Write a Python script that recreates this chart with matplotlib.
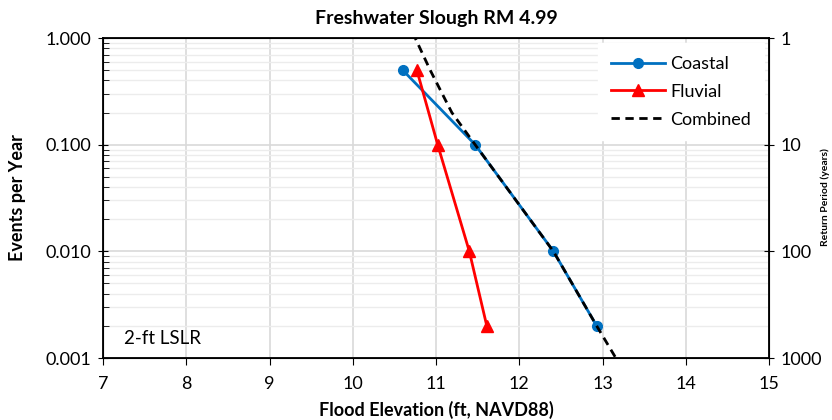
import matplotlib
matplotlib.use("Agg")
import matplotlib.pyplot as plt
from matplotlib.ticker import FixedLocator, FixedFormatter, LogLocator, NullFormatter

plt.rcParams['font.family'] = ['Lato', 'DejaVu Sans']

# data
coastal_x = [10.60, 11.47, 12.41, 12.93]
coastal_y = [0.5, 0.1, 0.01, 0.002]
fluvial_x = [10.77, 11.02, 11.40, 11.61]
fluvial_y = [0.5, 0.1, 0.01, 0.002]
combined_x = [10.70, 10.75, 10.93, 11.19, 11.47, 12.41, 12.93, 13.16]
combined_y = [1.1, 1.0, 0.5, 0.2, 0.1, 0.01, 0.002, 0.001]

left_ticks = [0.001, 0.01, 0.1, 1.0]
left_labels = ['0.001', '0.010', '0.100', '1.000']
right_ticks = [1, 10, 100, 1000]
right_labels = ['1', '10', '100', '1000']

fig = plt.figure(figsize=(8.32, 4.2), dpi=100)
ax = fig.add_axes([0.1238, 0.1476, 0.8005, 0.7619])

ax.plot(coastal_x, coastal_y, color='#0070C0', lw=2, marker='o', ms=7, label='Coastal', zorder=3)
ax.plot(fluvial_x, fluvial_y, color='#FF0000', lw=2, marker='^', ms=8, label='Fluvial', zorder=3)
ax.plot(combined_x, combined_y, color='black', lw=2, ls=(0, (3, 2)), label='Combined', zorder=4)

ax.set_yscale('log')
ax.set_ylim(0.001, 1.0)
ax.set_xlim(7, 15)
ax.set_xticks(range(7, 16))
ax.yaxis.set_major_locator(FixedLocator(left_ticks))
ax.yaxis.set_major_formatter(FixedFormatter(left_labels))
ax.yaxis.set_minor_locator(LogLocator(base=10, subs=range(2, 10)))
ax.yaxis.set_minor_formatter(NullFormatter())

ax.grid(True, which='major', color='#d9d9d9', lw=1.2)
ax.grid(True, which='minor', axis='y', color='#ececec', lw=1)
ax.set_axisbelow(True)

for s in ['top', 'left', 'right', 'bottom']:
    ax.spines[s].set_color('black')
    ax.spines[s].set_linewidth(1.3)

ax.tick_params(axis='x', which='major', direction='out', length=5, labelsize=13, pad=8)
ax.tick_params(axis='y', which='major', direction='inout', length=7, labelsize=13, pad=5)
ax.tick_params(axis='y', which='minor', direction='in', length=4)

ax.set_xlabel('Flood Elevation (ft, NAVD88)', fontsize=13, fontweight='bold', labelpad=6)
ax.set_ylabel('Events per Year', fontsize=13, fontweight='bold', labelpad=14)
ax.set_title('Freshwater Slough RM 4.99', fontsize=14, fontweight='bold', pad=10)

ax.text(7.25, 0.00135, '2-ft LSLR', fontsize=13.5)

leg = ax.legend(loc='upper right', fontsize=13, frameon=True, framealpha=1,
                edgecolor='white', fancybox=False, handlelength=3.0,
                borderaxespad=0.3, labelspacing=0.65, borderpad=0.7,
                handletextpad=0.3)

ax2 = ax.twinx()
ax2.set_yscale('log')
ax2.set_ylim(1000, 1)
ax2.yaxis.set_major_locator(FixedLocator(right_ticks))
ax2.yaxis.set_major_formatter(FixedFormatter(right_labels))
ax2.yaxis.set_minor_locator(FixedLocator([]))
ax2.tick_params(axis='y', which='major', direction='inout', length=7, labelsize=13, pad=5)

# right-hand axis title, squeezed against the edge (it is clipped in the reference)
fig.text(0.997, 0.53, 'Return Period (years)', fontsize=7.5, fontweight='bold',
         rotation=90, ha='right', va='center')

fig.savefig('out.png', dpi=100)
